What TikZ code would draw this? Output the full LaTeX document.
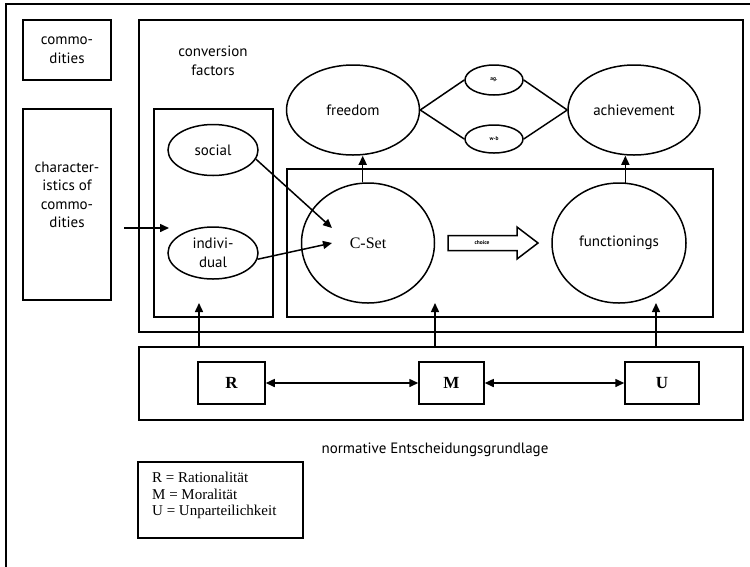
\documentclass[tikz,border=0pt]{standalone}
\usepackage{fontspec}
\setmainfont{Liberation Serif}
\newfontfamily\hum{PT Sans}
\usetikzlibrary{arrows.meta,shapes.geometric,calc}
\tikzset{
  box/.style={draw,line width=1.5pt,rectangle,inner sep=0pt},
  oval/.style={draw,line width=1.5pt,ellipse,inner sep=0pt},
  lbl/.style={font=\hum\fontsize{15}{18.5}\selectfont,align=center},
  tms/.style={font=\fontsize{16}{18}\selectfont},
  bld/.style={font=\bfseries\fontsize{17}{18}\selectfont},
  tiny/.style={font=\hum\bfseries\fontsize{5.5}{6}\selectfont},
  arr/.style={line width=1.5pt,-{Triangle[length=9pt,width=8pt]}},
  darr/.style={line width=1.5pt,{Triangle[length=9pt,width=8pt]}-{Triangle[length=9pt,width=8pt]}},
  ln/.style={line width=1.5pt},
}
\begin{document}
\begin{tikzpicture}[x=1pt,y=-1pt]
\useasboundingbox (0,0) rectangle (750,566);
% outer frame (cropped)
\draw[ln] (6,580) -- (6,4) -- (770,4);
% boxes
\node[box,minimum width=88,minimum height=60] (comm) at (67,50) {};
\node[lbl] at (comm) {commo-\\dities};
\node[box,minimum width=88,minimum height=191] (chars) at (67,204.5) {};
\node[lbl] at (67,195) {character-\\istics of\\commo-\\dities};
\node[box,minimum width=604,minimum height=312] (big) at (441,176) {};
\node[lbl] (conv) at (213,61) {conversion\\factors};
\node[box,minimum width=119,minimum height=208] (innerL) at (213.5,213) {};
\node[oval,minimum width=90,minimum height=51,lbl] (social) at (213,150) {social};
\node[oval,minimum width=90,minimum height=52,lbl] (indiv) at (213,253) {indivi-\\dual};
\node[box,minimum width=426,minimum height=148] (innerR) at (500,243) {};
\node[oval,minimum width=133,minimum height=120,tms] (cset) at (368,243) {C-Set};
\node[oval,minimum width=134,minimum height=120,lbl] (func) at (619,243) {functionings};
\node[oval,minimum width=133,minimum height=90,lbl] (freedom) at (353,110) {freedom};
\node[oval,minimum width=132,minimum height=90,lbl] (achieve) at (634,110) {achievement};
\node[oval,minimum width=58,minimum height=30,tiny] (ag) at (494,80) {ag.};
\node[oval,minimum width=58,minimum height=28,tiny] (wb) at (494,139) {w-b};
% choice arrow
\draw[ln] (448,235.5) -- (517,235.5) -- (517,227) -- (538,243) -- (517,259) -- (517,250.5) -- (448,250.5) -- cycle;
\node[tiny] (choice) at (482,243) {choice};
% bottom
\node[box,minimum width=604,minimum height=73] (bot) at (441,383.5) {};
\node[box,minimum width=67,minimum height=42,bld] (R) at (231.5,383) {R};
\node[box,minimum width=65,minimum height=42,bld] (M) at (451.5,383) {M};
\node[box,minimum width=74,minimum height=42,bld] (U) at (662,383) {U};
\node[lbl] (norm) at (435,450) {normative Entscheidungsgrundlage};
\node[box,minimum width=165,minimum height=76] (legbox) at (220.5,500) {};
\node[anchor=north west,align=left,font=\fontsize{15}{16.5}\selectfont,inner sep=0pt] (leg) at (152,472) {R = Rationalität\\M = Moralität\\U = Unparteilichkeit};
% connectors
\coordinate (c0) at (124,228);
\coordinate (c1) at (169,228);
\draw[arr] (c0) -- (c1);
\coordinate (cs1) at (332,228);
\coordinate (cs2) at (332,243);
\draw[arr] (social.-12) -- (cs1);
\draw[arr] (indiv.-8) -- (cs2);
\draw[arr] (cset.95) -- (cset.95 |- freedom.south);
\draw[arr] (func.84) -- (func.84 |- achieve.south);
\draw[ln] (freedom.east) -- (ag.west);
\draw[ln] (freedom.east) -- (wb.west);
\draw[ln] (ag.east) -- (achieve.west);
\draw[ln] (wb.east) -- (achieve.west);
\draw[darr] (R.east) -- (M.west);
\draw[darr] (M.east) -- (U.west);
\coordinate (t1) at (199,303);
\coordinate (t2) at (435,303);
\coordinate (t3) at (656,303);
\draw[arr] (t1 |- bot.north) -- (t1);
\draw[arr] (t2 |- bot.north) -- (t2);
\draw[arr] (t3 |- bot.north) -- (t3);
\end{tikzpicture}
\end{document}
